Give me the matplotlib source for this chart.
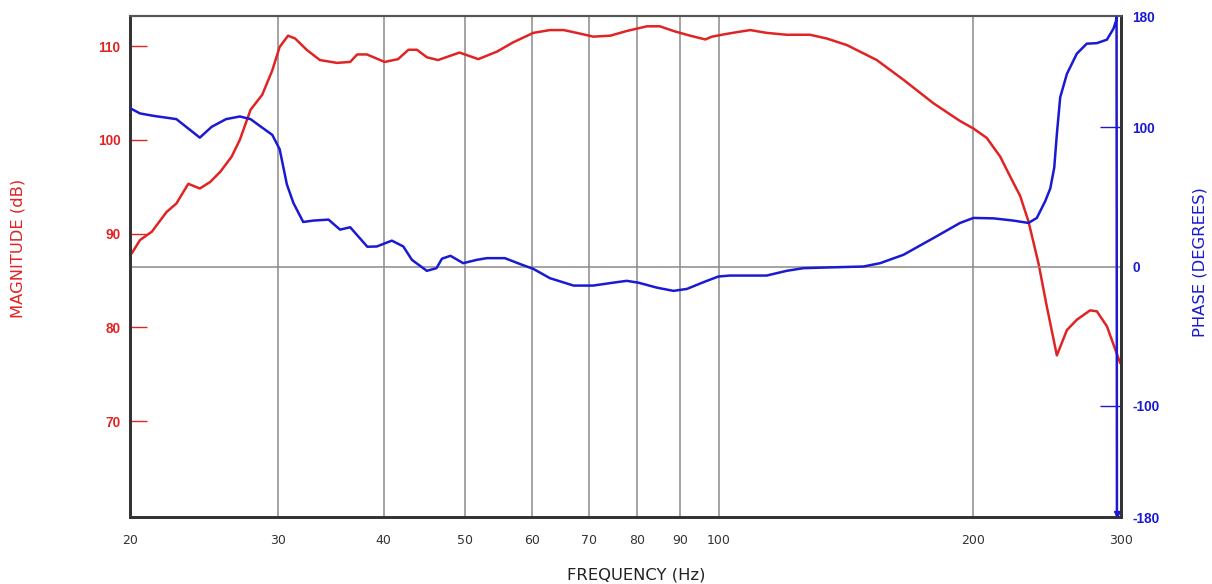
import matplotlib.pyplot as plt
import numpy as np
from matplotlib.ticker import FixedLocator, NullLocator, FixedFormatter

plt.rcParams['axes.unicode_minus'] = False

# magnitude response (dB)
mag_freq = [20.0, 20.1, 20.55, 21.23, 22.1, 22.7, 23.45, 24.2, 24.9, 25.6, 26.4, 27.0,
            27.8, 28.7, 29.5, 30.1, 30.8, 31.4, 32.4, 33.6, 35.2, 36.5, 37.2, 38.2,
            40.1, 41.6, 42.8, 43.8, 45.0, 46.4, 49.2, 51.8, 54.5, 57.0, 60.2, 63.0,
            65.4, 67.8, 70.9, 74.3, 77.7, 82.1, 85.1, 88.3, 92.4, 96.3, 98.1, 102.2,
            105.4, 108.9, 113.9, 120.3, 128.2, 134.2, 141.8, 153.9, 165.5, 179.6,
            193.2, 200.4, 207.8, 215.6, 221.5, 227.7, 232.9, 239.4, 244.9, 251.7,
            258.7, 265.8, 275.6, 280.8, 288.6, 299.2, 300.0]
mag_db = [87.8, 87.9, 89.3, 90.2, 92.3, 93.2, 95.3, 94.8, 95.5, 96.6, 98.2, 100.0,
          103.2, 104.8, 107.4, 109.9, 111.1, 110.8, 109.6, 108.5, 108.2, 108.3, 109.1, 109.1,
          108.3, 108.6, 109.6, 109.6, 108.8, 108.5, 109.3, 108.6, 109.4, 110.4, 111.4, 111.7,
          111.7, 111.4, 111.0, 111.1, 111.6, 112.1, 112.1, 111.6, 111.1, 110.7, 111.0, 111.3,
          111.5, 111.7, 111.4, 111.2, 111.2, 110.8, 110.1, 108.5, 106.4, 103.9,
          102.0, 101.2, 100.2, 98.2, 96.1, 94.0, 91.3, 86.8, 82.2, 77.0,
          79.7, 80.8, 81.8, 81.7, 80.1, 76.2, 76.1]

# phase response (degrees)
ph_freq = [20.0, 20.1, 20.55, 21.3, 22.7, 24.2, 25.0, 26.0, 27.0, 27.8, 28.5, 29.5,
           30.1, 30.7, 31.25, 32.1, 33.0, 34.4, 35.5, 36.5, 38.25, 39.25, 40.9, 42.2,
           43.2, 45.0, 46.2, 46.9, 48.0, 49.7, 51.6, 53.0, 55.7, 58.1, 60.2, 63.0,
           67.2, 70.9, 74.9, 77.7, 80.2, 84.4, 88.3, 91.6, 95.8, 99.8, 103.0, 113.9,
           120.3, 125.9, 134.2, 148.4, 155.3, 165.5, 179.6, 193.2, 200.4, 211.7,
           223.5, 232.9, 238.3, 243.8, 247.2, 249.9, 251.7, 254.0, 258.7, 265.8,
           273.1, 280.8, 288.6, 293.8, 296.0, 296.3, 296.6]
ph_deg = [114.0, 113.1, 110.0, 108.3, 105.9, 92.6, 100.4, 105.9, 107.8, 105.9, 101.1, 94.6,
          84.3, 59.0, 45.7, 32.0, 33.0, 33.7, 26.5, 28.2, 14.2, 14.4, 18.6, 14.4,
          4.8, -3.1, -1.2, 5.6, 7.7, 2.4, 4.8, 6.0, 6.0, 1.7, -1.7, -8.4,
          -13.7, -13.7, -11.6, -10.3, -11.6, -15.2, -17.5, -16.1, -11.3, -7.2, -6.5, -6.5,
          -3.1, -1.2, -0.7, 0.0, 2.4, 8.4, 20.4, 31.3, 34.9, 34.6,
          33.0, 31.3, 34.9, 46.9, 56.0, 71.0, 95.1, 121.5, 138.4, 152.9,
          160.1, 160.5, 163.0, 170.9, 176.9, 179.0, -179.0]

freq_ticks = [20, 30, 40, 50, 60, 70, 80, 90, 100, 200, 300]
mag_ticks = [70, 80, 90, 100, 110]
phase_ticks = [-180, -100, 0, 100, 180]

red = '#e02424'
blue = '#1a1ad2'
grid_col = '#8a8a8a'

fig = plt.figure(figsize=(12.12, 5.84), dpi=100)
ax = fig.add_axes([0.1073, 0.1147, 0.8177, 0.8579])
ax2 = ax.twinx()

ax.set_xscale('log')
ax.set_xlim(20, 300)
ax.set_ylim(59.76, 113.2)
ax2.set_ylim(-180, 180)

ax.xaxis.set_major_locator(FixedLocator(freq_ticks))
ax.xaxis.set_major_formatter(FixedFormatter([str(t) for t in freq_ticks]))
ax.xaxis.set_minor_locator(NullLocator())
ax.grid(True, axis='x', color=grid_col, lw=1.1)
ax2.axhline(0, color=grid_col, lw=1.1, zorder=0)

ax.plot(mag_freq, mag_db, color=red, lw=1.8, zorder=3)
ax2.plot(ph_freq, ph_deg, color=blue, lw=1.8, zorder=3)
ax2.plot([ph_freq[-1]], [-178], marker='v', color=blue, ms=4)

ax.set_yticks(mag_ticks)
ax.tick_params(axis='y', direction='in', length=12.5, width=1.0, color=red,
               labelcolor=red, labelsize=9.8, pad=7)
for lab in ax.get_yticklabels():
    lab.set_fontweight('bold')
    lab.set_family('Liberation Sans')
ax.tick_params(axis='x', length=0, labelsize=9, labelcolor='#333333', pad=12)

ax2.set_yticks(phase_ticks)
ax2.tick_params(axis='y', direction='in', length=15, width=1.0, color=blue,
                labelcolor=blue, labelsize=9.8, pad=8)
for lab in ax2.get_yticklabels():
    lab.set_fontweight('bold')
    lab.set_family('Liberation Sans')
# only the +-100 tick marks show on the phase side
for val, tick in zip(phase_ticks, ax2.yaxis.get_major_ticks()):
    if abs(val) != 100:
        tick.tick2line.set_visible(False)
        tick.tick1line.set_visible(False)

for a in (ax, ax2):
    for side in ['left', 'bottom', 'right']:
        a.spines[side].set_color('#333333')
        a.spines[side].set_linewidth(2)
    a.spines['top'].set_color('#555555')
    a.spines['top'].set_linewidth(1.5)

fig.text(0.015, 0.575, 'MAGNITUDE (dB)', rotation=90, color=red, fontsize=11.8,
         ha='center', va='center')
fig.text(0.99, 0.551, 'PHASE (DEGREES)', rotation=90, color=blue, fontsize=11.8,
         ha='center', va='center')
fig.text(0.525, 0.015, 'FREQUENCY (Hz)', color='#222222', fontsize=11.8,
         ha='center', va='center')

fig.savefig('out.png', dpi=100)
